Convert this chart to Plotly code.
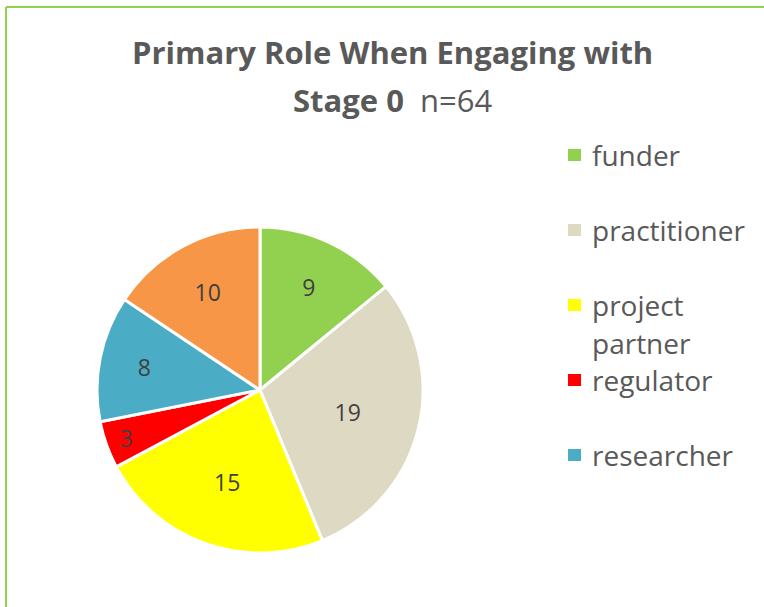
import plotly.graph_objects as go

labels = ["funder", "practitioner", "project partner", "regulator", "researcher", "other"]
values = [9, 19, 15, 3, 8, 10]
colors = ["#92D050", "#DDD9C3", "#FFFF00", "#FF0000", "#4BACC6", "#F79646"]
legend_labels = labels[:5]  # last entry is cut off in the original

W, H = 764, 607
FONT = "Open Sans"
GREY = "#595959"


def px(x, y):
    return x / W, 1 - y / H


fig = go.Figure()
fig.add_trace(go.Pie(
    labels=labels,
    values=values,
    sort=False,
    direction="clockwise",
    rotation=0,
    marker=dict(colors=colors, line=dict(color="white", width=3)),
    textinfo="value",
    textposition="inside",
    insidetextorientation="horizontal",
    textfont=dict(family=FONT, size=23, color="#404040"),
    domain=dict(x=[97 / W, 423 / W], y=[1 - 553 / H, 1 - 227 / H]),
    showlegend=False,
    hoverinfo="label+value",
))

annotations = []
# title, two lines
for text, yy in [("<b>Primary Role When Engaging with</b>", 52), ("<b>Stage 0</b>  n=64", 100)]:
    x, y = px(392, yy)
    annotations.append(dict(x=x, y=y, xref="paper", yref="paper", text=text, showarrow=False,
                            xanchor="center", yanchor="middle",
                            font=dict(family=FONT, size=31, color=GREY)))

shapes = []
# legend drawn by hand
for i, lab in enumerate(legend_labels):
    y0 = 155 + 75 * i
    x0, yt = px(568, y0 - 6)
    x1, yb = px(581, y0 + 6)
    shapes.append(dict(type="rect", xref="paper", yref="paper", x0=x0, x1=x1, y0=yb, y1=yt,
                       fillcolor=colors[i], line=dict(width=0)))
    for j, line in enumerate(lab.split(" ") if lab == "project partner" else [lab]):
        x, y = px(590, y0 + 38 * j)
        annotations.append(dict(x=x, y=y, xref="paper", yref="paper", text=line, showarrow=False,
                                xanchor="left", yanchor="middle",
                                font=dict(family=FONT, size=28, color=GREY)))

# green frame (left and top edges visible)
xl, yt = px(6, 7)
shapes.append(dict(type="line", xref="paper", yref="paper", x0=xl, x1=xl, y0=0, y1=yt,
                   line=dict(color="#92D050", width=2)))
shapes.append(dict(type="line", xref="paper", yref="paper", x0=xl, x1=1, y0=yt, y1=yt,
                   line=dict(color="#92D050", width=2)))

fig.update_layout(
    width=W, height=H,
    margin=dict(l=0, r=0, t=0, b=0),
    paper_bgcolor="white",
    plot_bgcolor="white",
    annotations=annotations,
    shapes=shapes,
)

fig.write_html("out.html", config={"displayModeBar": False},
               post_script="document.body.style.margin='0';")
